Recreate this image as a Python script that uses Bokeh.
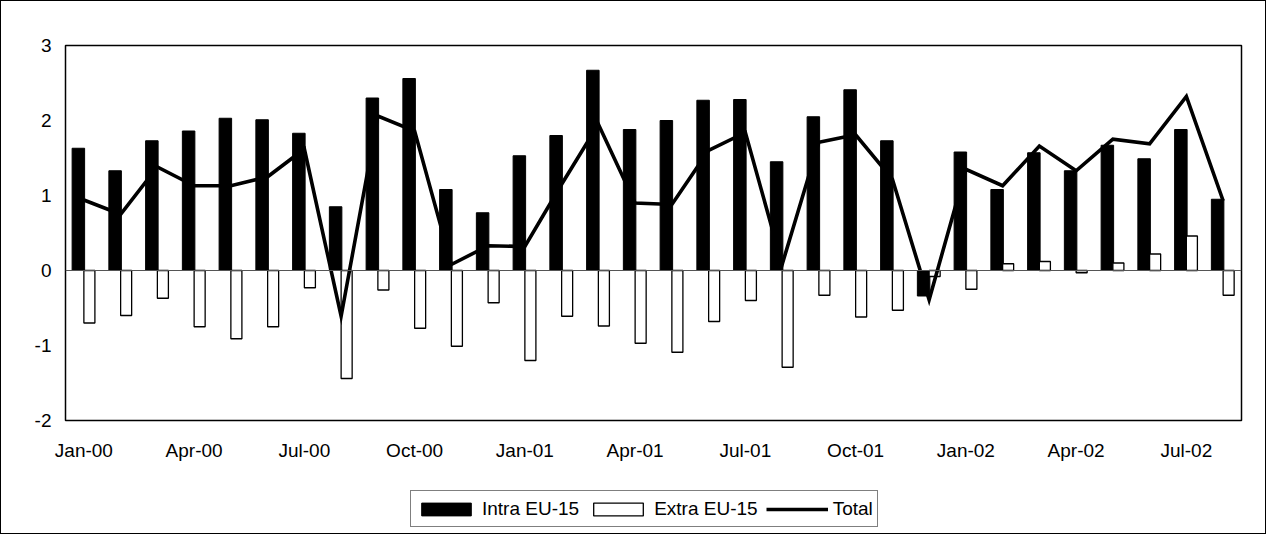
from bokeh.plotting import figure
from bokeh.layouts import column
from bokeh.models import (ColumnDataSource, Range1d, FixedTicker,
                          Span, Legend, LegendItem)
from bokeh.embed import file_html
from bokeh.resources import INLINE

months = ["Jan-00", "Feb-00", "Mar-00", "Apr-00", "May-00", "Jun-00", "Jul-00", "Aug-00",
          "Sep-00", "Oct-00", "Nov-00", "Dec-00",
          "Jan-01", "Feb-01", "Mar-01", "Apr-01", "May-01", "Jun-01", "Jul-01", "Aug-01",
          "Sep-01", "Oct-01", "Nov-01", "Dec-01",
          "Jan-02", "Feb-02", "Mar-02", "Apr-02", "May-02", "Jun-02", "Jul-02", "Aug-02"]

intra = [1.63, 1.33, 1.73, 1.86, 2.03, 2.01, 1.83, 0.85, 2.30, 2.56, 1.08, 0.77,
         1.53, 1.80, 2.67, 1.88, 2.00, 2.27, 2.28, 1.45, 2.05, 2.41, 1.73, -0.34,
         1.58, 1.08, 1.57, 1.33, 1.67, 1.49, 1.88, 0.95]

extra = [-0.70, -0.60, -0.37, -0.75, -0.91, -0.75, -0.23, -1.44, -0.26, -0.77, -1.01, -0.43,
         -1.20, -0.61, -0.74, -0.97, -1.09, -0.68, -0.40, -1.29, -0.33, -0.62, -0.53, -0.08,
         -0.25, 0.09, 0.12, -0.03, 0.10, 0.22, 0.46, -0.33]

total = [0.94, 0.75, 1.38, 1.13, 1.13, 1.25, 1.62, -0.61, 2.06, 1.86, 0.08, 0.33,
         0.32, 1.15, 1.95, 0.90, 0.88, 1.60, 1.84, 0.08, 1.71, 1.81, 1.22, -0.39,
         1.35, 1.13, 1.66, 1.33, 1.75, 1.69, 2.32, 0.93]

y_ticks = [-2, -1, 0, 1, 2, 3]
y_labels = ["-2", "-1", "0", "1", "2", "3"]
series_names = ["Intra EU-15", "Extra EU-15", "Total"]

FONT = "Liberation Sans"

n = len(months)
centers = [i + 0.5 for i in range(n)]
src = ColumnDataSource(dict(x=centers, x_intra=[c - 0.15 for c in centers],
                            x_extra=[c + 0.15 for c in centers],
                            intra=intra, extra=extra, total=total))


def draw_series(fig, visible=True):
    ri = fig.vbar(x="x_intra", top="intra", bottom=0, width=0.34, source=src,
                  fill_color="black", line_color="black", line_width=1, visible=visible)
    re = fig.vbar(x="x_extra", top="extra", bottom=0, width=0.30, source=src,
                  fill_color="white", line_color="black", line_width=1.3, visible=visible)
    rt = fig.line(x="x", y="total", source=src, line_color="black", line_width=3.6,
                  line_join="miter", visible=visible)
    return ri, re, rt


# ---------------- main chart ----------------
p = figure(width=1264, height=464, output_backend="svg", toolbar_location=None,
           x_range=Range1d(0, n), y_range=Range1d(-2, 3),
           min_border_left=64, min_border_right=24, min_border_top=44, min_border_bottom=45)
p.background_fill_color = "white"
p.border_fill_color = "white"
p.outline_line_color = "black"
p.outline_line_width = 1.5
p.xgrid.grid_line_color = None
p.ygrid.grid_line_color = None

draw_series(p)
p.add_layout(Span(location=0, dimension="width", line_color="#555555", line_width=1))

p.yaxis.ticker = FixedTicker(ticks=y_ticks)
p.yaxis.major_label_overrides = {t: s for t, s in zip(y_ticks, y_labels)}
p.yaxis.axis_line_color = None
p.yaxis.major_tick_line_color = None
p.yaxis.major_tick_out = 0
p.yaxis.major_tick_in = 0
p.yaxis.minor_tick_line_color = None
p.yaxis.major_label_text_font = FONT
p.yaxis.major_label_text_font_size = "19px"
p.yaxis.major_label_text_color = "black"
p.yaxis.major_label_standoff = 14

tick_pos = [centers[i] for i in range(0, n, 3)]
p.xaxis.ticker = FixedTicker(ticks=tick_pos)
p.xaxis.major_label_overrides = {centers[i]: months[i] for i in range(0, n, 3)}
p.xaxis.axis_line_color = None
p.xaxis.major_tick_line_color = None
p.xaxis.major_tick_out = 0
p.xaxis.major_tick_in = 0
p.xaxis.minor_tick_line_color = None
p.xaxis.major_label_text_font = FONT
p.xaxis.major_label_text_font_size = "19px"
p.xaxis.major_label_text_color = "black"
p.xaxis.major_label_standoff = 19

# ---------------- legend strip ----------------
# hidden proxy renderers only supply the legend swatches
pl = figure(width=1264, height=68, output_backend="svg", toolbar_location=None,
            x_range=Range1d(0, n), y_range=Range1d(-2, 3),
            x_axis_location=None, y_axis_location=None,
            min_border_left=0, min_border_right=0, min_border_top=0, min_border_bottom=0)
pl.outline_line_color = None
pl.grid.visible = False
pl.background_fill_color = "white"
pl.border_fill_color = "white"
li, le, lt = draw_series(pl, visible=False)

legend = Legend(items=[LegendItem(label=series_names[0], renderers=[li]),
                       LegendItem(label=series_names[1], renderers=[le]),
                       LegendItem(label=series_names[2], renderers=[lt])],
                orientation="horizontal", location=(345, 6))
legend.click_policy = "none"
legend.inactive_fill_alpha = 0
legend.label_text_font = FONT
legend.label_text_font_size = "19px"
legend.label_text_color = "black"
legend.glyph_width = 62
legend.glyph_height = 16
legend.label_height = 27
legend.label_standoff = 5
legend.spacing = 8
legend.padding = 4
legend.margin = 0
legend.border_line_color = "black"
legend.border_line_width = 1
legend.background_fill_color = "white"
pl.add_layout(legend)

layout = column(p, pl, spacing=0)
layout.styles = {"border": "1.5px solid black", "background-color": "white"}

open("out.html", "w").write(file_html(layout, INLINE))
